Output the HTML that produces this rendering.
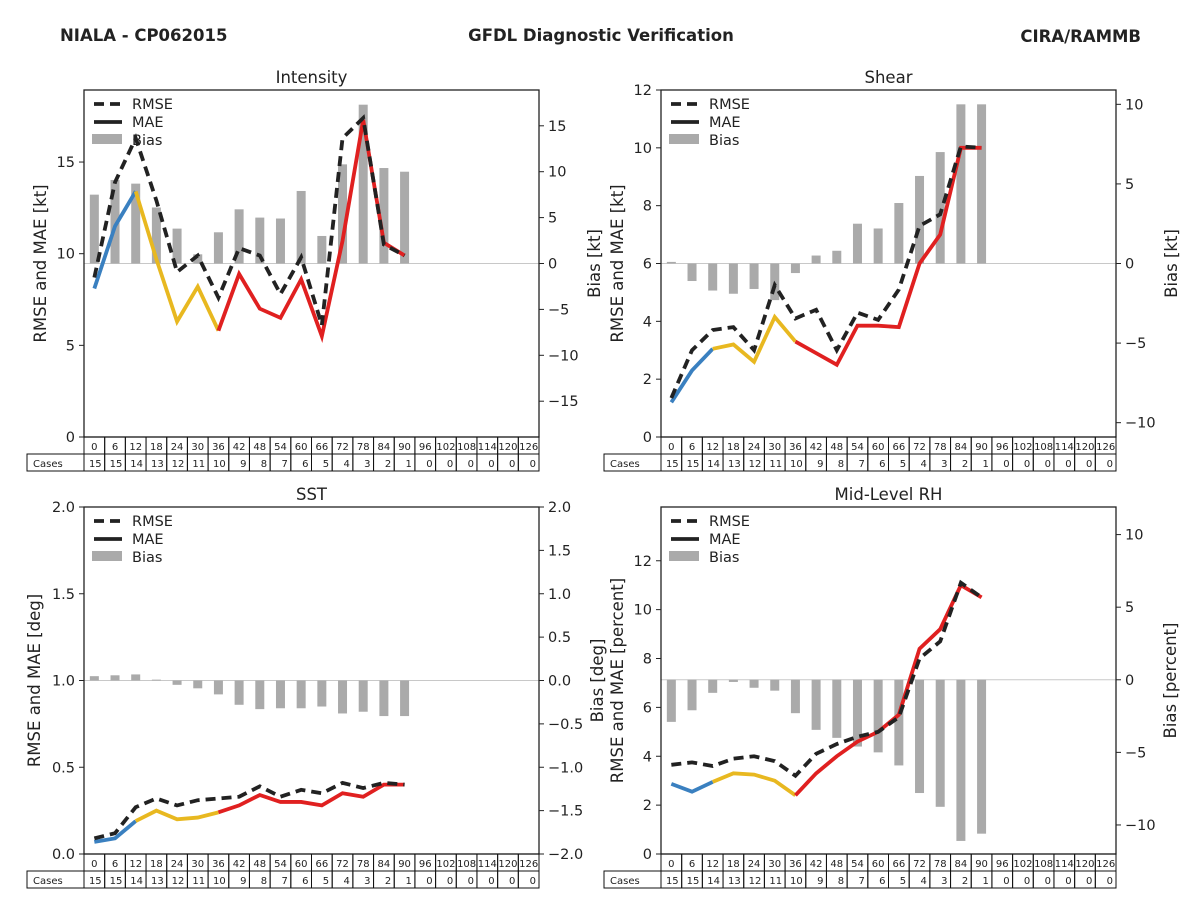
<!DOCTYPE html>
<html><head><meta charset="utf-8"><style>
body{margin:0;background:#fff;}
svg{display:block;font-family:"DejaVu Sans","Liberation Sans",sans-serif;}
</style></head><body>
<svg id="root" width="1200" height="900" viewBox="0 0 1200 900">
<text x="60" y="41" font-size="16.5" font-weight="bold" fill="#222">NIALA - CP062015</text>
<text x="601" y="41" font-size="16.5" font-weight="bold" fill="#222" text-anchor="middle">GFDL Diagnostic Verification</text>
<text x="1141" y="42" font-size="16.5" font-weight="bold" fill="#222" text-anchor="end">CIRA/RAMMB</text>
</svg>
<script>
const hours=[0,6,12,18,24,30,36,42,48,54,60,66,72,78,84,90,96,102,108,114,120,126];
const cases=[15,15,14,13,12,11,10,9,8,7,6,5,4,3,2,1,0,0,0,0,0,0];
const dataHours=[0,6,12,18,24,30,36,42,48,54,60,66,72,78,84,90];
const intRmse=[8.7,13.9,16.3,12.9,9,9.9,7.6,10.3,9.9,7.8,9.8,6.1,16.3,17.4,10.5,9.9];
const intMae=[8.1,11.5,13.4,9.7,6.3,8.2,5.8,8.9,7,6.5,8.6,5.5,10.7,17.3,10.6,9.9];
const intBias=[7.5,9.1,8.7,6.1,3.8,1,3.4,5.9,5,4.9,7.9,3,10.8,17.3,10.4,10];
const shrRmse=[1.35,3,3.7,3.8,3,5.25,4.1,4.4,3,4.3,4.05,5.1,7.3,7.7,10.05,10];
const shrMae=[1.2,2.3,3.05,3.2,2.6,4.15,3.3,2.9,2.5,3.85,3.85,3.8,6,7,10,10];
const shrBias=[0.1,-1.1,-1.7,-1.9,-1.6,-2.3,-0.6,0.5,0.8,2.5,2.2,3.8,5.5,7,10,10];
const sstRmse=[0.09,0.12,0.27,0.32,0.28,0.31,0.32,0.33,0.39,0.33,0.37,0.35,0.41,0.38,0.41,0.4];
const sstMae=[0.07,0.09,0.19,0.25,0.2,0.21,0.24,0.28,0.34,0.3,0.3,0.28,0.35,0.33,0.4,0.4];
const sstBias=[0.05,0.06,0.07,0.01,-0.05,-0.09,-0.16,-0.28,-0.33,-0.32,-0.32,-0.3,-0.38,-0.36,-0.41,-0.41];
const rhRmse=[3.65,3.75,3.6,3.9,4,3.8,3.2,4.1,4.5,4.8,5,5.6,8,8.7,11.1,10.5];
const rhMae=[2.87,2.55,2.95,3.3,3.25,3,2.4,3.3,4,4.6,5,5.7,8.4,9.2,11,10.5];
const rhBias=[-2.9,-2.1,-0.9,-0.15,-0.55,-0.75,-2.3,-3.45,-4,-4.6,-5,-5.9,-7.8,-8.75,-11.1,-10.6];
const intLTicks=[0,5,10,15], intRTicks=[-15,-10,-5,0,5,10,15];
const shrLTicks=[0,2,4,6,8,10,12], shrRTicks=[-10,-5,0,5,10];
const sstLTicks=[0,0.5,1,1.5,2], sstRTicks=[-2,-1.5,-1,-0.5,0,0.5,1,1.5,2];
const rhLTicks=[0,2,4,6,8,10,12], rhRTicks=[-10,-5,0,5,10];

const NS="http://www.w3.org/2000/svg";
const root=document.getElementById('root');
function mk(tag,attrs,parent){const e=document.createElementNS(NS,tag);for(const k in attrs)e.setAttribute(k,attrs[k]);(parent||root).appendChild(e);return e;}

function panel(o){
  const g=mk('g',{});
  
  
  const L=o.x0,R=o.x1,T=o.y0,B=o.y1;
  const xs=h=>L+(h+3)*(R-L)/132;
  const yl=v=>B-(v-o.lmin)/(o.lmax-o.lmin)*(B-T);
  const yr=v=>B-(v-o.rmin)/(o.rmax-o.rmin)*(B-T);
  const zl=mk('line',{x1:L,x2:R,y1:yr(0),y2:yr(0),stroke:'#c8c8c8','stroke-width':1},g);
  
  
  o.bias.forEach((b,i)=>{
    const y0=yr(0),y1=yr(b);
    const r=mk('rect',{x:xs(dataHours[i])-4.5,y:Math.min(y0,y1),width:9,height:Math.max(Math.abs(y1-y0),0.8),fill:'#aaaaaa'},g);
    
    
  });
  const segs=[[0,2,'#3a80c0'],[2,6,'#e8b820'],[6,15,'#e02020']];
  segs.forEach(s=>{
    let d='';
    for(let i=s[0];i<=s[1];i++)d+=(i==s[0]?'M':'L')+xs(dataHours[i])+','+yl(o.mae[i]);
    const p=mk('path',{d:d,fill:'none',stroke:s[2],'stroke-width':3.8,'stroke-linejoin':'miter'},g);
    
    
  });
  let d='';
  o.rmse.forEach((v,i)=>{d+=(i?'L':'M')+xs(dataHours[i])+','+yl(v);});
  const rp=mk('path',{d:d,fill:'none',stroke:'#222','stroke-width':3.8,'stroke-dasharray':'10,6'},g);
  
  
  const fr=mk('rect',{x:L,y:T,width:R-L,height:B-T,fill:'none',stroke:'#222','stroke-width':1.3},g);
  
  
  o.lt.forEach(t=>{
    mk('line',{x1:L-5,x2:L,y1:yl(t),y2:yl(t),stroke:'#222'},g);
    const tx=mk('text',{x:L-9,y:yl(t)+5,'font-size':14.5,'text-anchor':'end',fill:'#222'},g);
    tx.textContent=o.lfmt(t);
    
    
  });
  o.rt.forEach(t=>{
    mk('line',{x1:R,x2:R+5,y1:yr(t),y2:yr(t),stroke:'#222'},g);
    const tx=mk('text',{x:R+9,y:yr(t)+5,'font-size':14.5,fill:'#222'},g);
    tx.textContent=o.rfmt(t).replace('-','\u2212');
    
    
  });
  const tt=mk('text',{x:(L+R)/2,y:T-7,'font-size':16.5,'text-anchor':'middle',fill:'#222'},g);
  tt.textContent=o.title;
  
  
  o.ylabels.forEach(lb=>{
    const t=mk('text',{x:0,y:0,'font-size':16.5,'text-anchor':'middle',fill:'#222',transform:'translate('+lb[0]+','+((T+B)/2)+') rotate(-90)'},g);
    t.textContent=lb[1];
    
    
  });
  const lx=L+10,ly=T+14;
  mk('line',{x1:lx,x2:lx+28,y1:ly,y2:ly,stroke:'#222','stroke-width':3.8,'stroke-dasharray':'10,6'},g);
  mk('line',{x1:lx,x2:lx+28,y1:ly+18,y2:ly+18,stroke:'#222','stroke-width':3.8},g);
  mk('rect',{x:lx-2,y:ly+30,width:30,height:10,fill:'#aaaaaa'},g);
  [['RMSE',0],['MAE',18],['Bias',36]].forEach(a=>{
    const t=mk('text',{x:lx+38,y:ly+a[1]+5,'font-size':14.5,fill:'#222'},g);
    t.textContent=a[0];
    
    
  });
  const cw=(R-L)/22;
  const tb=mk('g',{},g);
  
  
  hours.forEach((h,i)=>{
    const x=L+i*cw;
    mk('rect',{x:x,y:B,width:cw,height:17,fill:'none',stroke:'#111','stroke-width':1},tb);
    mk('rect',{x:x,y:B+17,width:cw,height:17,fill:'none',stroke:'#111','stroke-width':1},tb);
    const a=mk('text',{x:x+cw/2,y:B+13,'font-size':10,'text-anchor':'middle',fill:'#222'},tb);a.textContent=h;
    const b=mk('text',{x:x+cw-3,y:B+30,'font-size':10,'text-anchor':'end',fill:'#222'},tb);b.textContent=cases[i];
  });
  mk('rect',{x:L-57,y:B+17,width:57,height:17,fill:'none',stroke:'#111','stroke-width':1},tb);
  const c=mk('text',{x:L-51,y:B+30,'font-size':10,fill:'#222'},tb);c.textContent='Cases';
}
const i1=x=>String(x);
const f1=x=>x.toFixed(1);
panel({name:'intensity',title:'Intensity',x0:84,x1:539,y0:90,y1:437,lmin:0,lmax:18.93,rmin:-18.9,rmax:18.9,rmse:intRmse,mae:intMae,bias:intBias,lt:intLTicks,rt:intRTicks,lfmt:i1,rfmt:i1,ylabels:[[46,'RMSE and MAE [kt]'],[600,'Bias [kt]']]});
panel({name:'shear',title:'Shear',x0:661,x1:1116,y0:90,y1:437,lmin:0,lmax:12,rmin:-10.9,rmax:10.9,rmse:shrRmse,mae:shrMae,bias:shrBias,lt:shrLTicks,rt:shrRTicks,lfmt:i1,rfmt:i1,ylabels:[[623,'RMSE and MAE [kt]'],[1177,'Bias [kt]']]});
panel({name:'sst',title:'SST',x0:84,x1:539,y0:507,y1:854,lmin:0,lmax:2,rmin:-2,rmax:2,rmse:sstRmse,mae:sstMae,bias:sstBias,lt:sstLTicks,rt:sstRTicks,lfmt:f1,rfmt:f1,ylabels:[[40,'RMSE and MAE [deg]']]});
panel({name:'mid-level-rh',title:'Mid-Level RH',x0:661,x1:1116,y0:507,y1:854,lmin:0,lmax:14.2,rmin:-12,rmax:11.9,rmse:rhRmse,mae:rhMae,bias:rhBias,lt:rhLTicks,rt:rhRTicks,lfmt:i1,rfmt:i1,ylabels:[[603,'Bias [deg]'],[623,'RMSE and MAE [percent]'],[1176,'Bias [percent]']]});
</script>
</body></html>
